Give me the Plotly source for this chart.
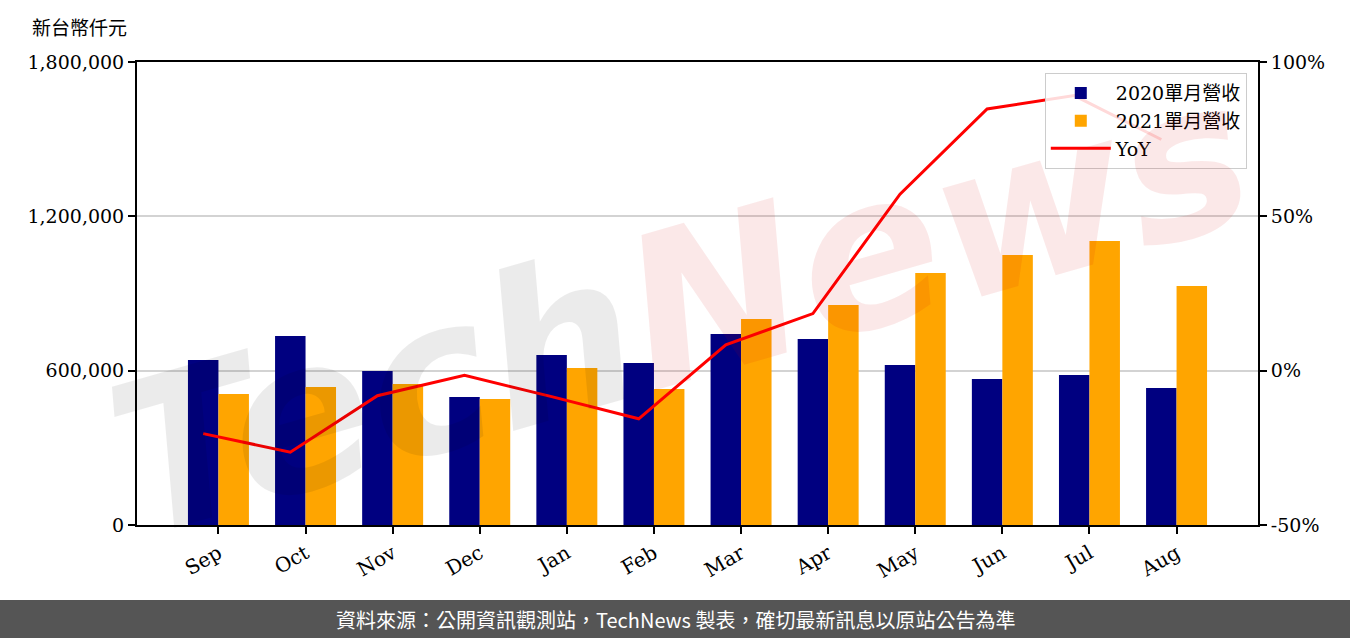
import plotly.graph_objects as go

months = ["Sep", "Oct", "Nov", "Dec", "Jan", "Feb", "Mar", "Apr", "May", "Jun", "Jul", "Aug"]
rev_2020 = [641500, 734800, 598700, 497700, 661000, 629900, 742600, 723200, 622100, 567700, 583200, 532700]
rev_2021 = [509300, 536500, 548200, 489900, 610400, 528800, 800900, 855400, 979800, 1049800, 1104200, 929200]
yoy = [-0.204, -0.264, -0.081, -0.015, -0.084, -0.156, 0.084, 0.185, 0.572, 0.848, 0.891, 0.749]

y1_ticks = [0, 600000, 1200000, 1800000]
y1_text = ["0", "600,000", "1,200,000", "1,800,000"]
y2_ticks = [-0.5, 0.0, 0.5, 1.0]
y2_text = ["-50%", "0%", "50%", "100%"]

names = ["2020單月營收", "2021單月營收", "YoY"]
unit_label = "新台幣仟元"
footer = "資料來源：公開資訊觀測站，TechNews 製表，確切最新訊息以原站公告為準"

W = 0.35
idx = list(range(len(months)))
x_2020 = [i - W / 2 for i in idx]
x_2021 = [i + W / 2 for i in idx]

SERIF = "DejaVu Serif, Noto Sans CJK TC, serif"
SANS = "Noto Sans CJK TC, Noto Sans, sans-serif"

fig = go.Figure()
fig.add_trace(go.Bar(x=x_2020, y=rev_2020, width=W, name=names[0],
                     marker=dict(color="#000080", line=dict(width=0))))
fig.add_trace(go.Bar(x=x_2021, y=rev_2021, width=W, name=names[1],
                     marker=dict(color="#FFA500", line=dict(width=0))))
fig.add_trace(go.Scatter(x=x_2020, y=yoy, name=names[2], mode="lines",
                         line=dict(color="#FF0000", width=3), yaxis="y2"))

fig.update_layout(
    width=1350, height=638,
    margin=dict(l=137, r=92, t=62, b=113),
    paper_bgcolor="white", plot_bgcolor="white",
    barmode="overlay",
    showlegend=True,
    font=dict(family=SERIF, size=19, color="black"),
    legend=dict(x=0.99, y=0.976, xanchor="right", yanchor="top",
                bgcolor="rgba(255,255,255,0.85)", bordercolor="#cccccc", borderwidth=1,
                font=dict(family=SERIF, size=19), traceorder="normal",
                tracegroupgap=0, itemwidth=60),
    xaxis=dict(range=[-0.935, 11.935], tickmode="array", tickvals=idx, ticktext=months,
               tickangle=-30, ticks="outside", ticklen=7, tickwidth=2, tickcolor="black",
               showline=True, linecolor="black", linewidth=2, mirror=True,
               showgrid=False, zeroline=False, tickfont=dict(family=SERIF, size=20)),
    yaxis=dict(range=[0, 1800000], tickmode="array", tickvals=y1_ticks, ticktext=y1_text,
               ticks="outside", ticklen=7, tickwidth=2, tickcolor="black",
               showline=True, linecolor="black", linewidth=2,
               showgrid=True, gridcolor="#d3d3d3", gridwidth=2, zeroline=False,
               tickfont=dict(family=SERIF, size=19)),
    yaxis2=dict(range=[-0.5, 1.0], overlaying="y", side="right", tickmode="array",
                tickvals=y2_ticks, ticktext=y2_text,
                ticks="outside", ticklen=7, tickwidth=2, tickcolor="black",
                showline=True, linecolor="black", linewidth=2,
                showgrid=False, zeroline=False, tickfont=dict(family=SERIF, size=19)),
)

# watermark
fig.add_annotation(
    xref="paper", yref="paper", x=0.485, y=0.47, xanchor="center", yanchor="middle",
    text="<b><i><span style='color:rgba(0,0,0,0.08)'>Tech</span>"
         "<span style='color:rgba(215,0,0,0.09)'>News</span></i></b>",
    showarrow=False, textangle=-16,
    font=dict(family="DejaVu Sans, sans-serif", size=210),
)

# unit label
fig.add_annotation(xref="paper", yref="paper", x=-0.0955, y=1.0756, xanchor="left",
                   yanchor="middle", text=unit_label, showarrow=False,
                   font=dict(family=SANS, size=19, color="black"))

# footer band
fig.add_shape(type="rect", xref="paper", yref="paper",
              x0=-137 / 1121, x1=1213 / 1121, y0=(525 - 640) / 463, y1=(525 - 600) / 463,
              fillcolor="#555555", line=dict(width=0), layer="above")
fig.add_annotation(xref="paper", yref="paper", x=(675 - 137) / 1121, y=(525 - 619) / 463,
                   xanchor="center", yanchor="middle", text=footer, showarrow=False,
                   font=dict(family=SANS, size=20, color="white"))

fig.write_html("out.html", config={"displayModeBar": False},
               post_script="document.body.style.margin='0px';")
